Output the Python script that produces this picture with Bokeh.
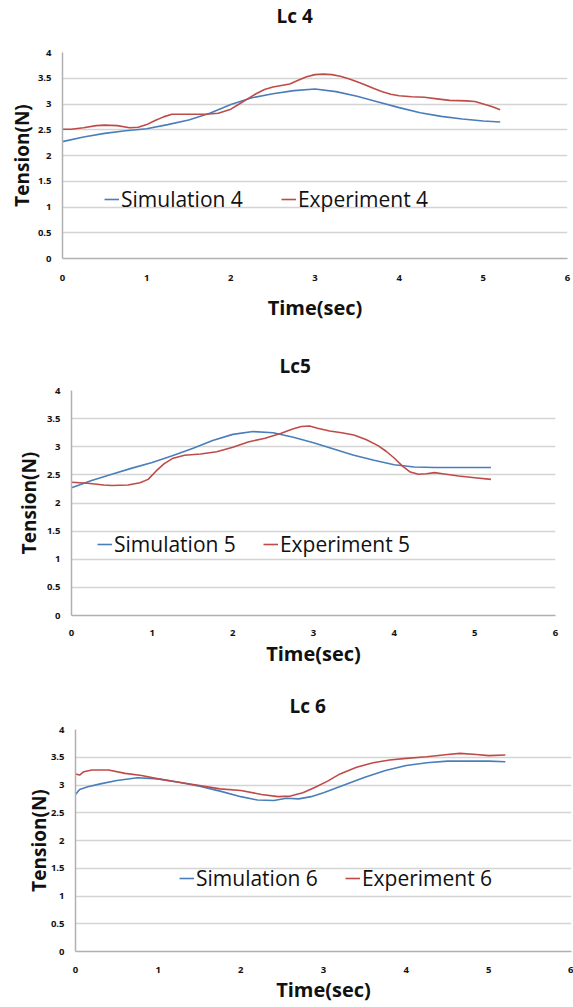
from bokeh.plotting import figure
from bokeh.models import FixedTicker, Range1d, Legend, LegendItem, Title
from bokeh.embed import file_html
from bokeh.resources import INLINE

# ---------------- data ----------------
x_ticks = [0, 1, 2, 3, 4, 5, 6]
x_tick_labels = ["0", "1", "2", "3", "4", "5", "6"]
y_ticks = [0, 0.5, 1, 1.5, 2, 2.5, 3, 3.5, 4]
y_tick_labels = ["0", "0.5", "1", "1.5", "2", "2.5", "3", "3.5", "4"]

titles = ["Lc 4", "Lc5", "Lc 6"]
sim_names = ["Simulation 4", "Simulation 5", "Simulation 6"]
exp_names = ["Experiment 4", "Experiment 5", "Experiment 6"]

t_sim4 = [0, 0.25, 0.5, 0.75, 1, 1.25, 1.5, 1.75, 2, 2.25, 2.5, 2.75, 3, 3.25,
          3.5, 3.75, 4, 4.25, 4.5, 4.75, 5, 5.2]
sim4 = [2.27, 2.36, 2.43, 2.48, 2.52, 2.6, 2.69, 2.82, 2.99, 3.12, 3.2, 3.26, 3.29, 3.24,
        3.15, 3.04, 2.93, 2.83, 2.76, 2.71, 2.67, 2.65]
t_exp4 = [0, 0.1, 0.25, 0.4, 0.5, 0.65, 0.8, 0.9, 1.0, 1.1, 1.2, 1.3, 1.5, 1.7, 1.85,
          2.0, 2.1, 2.2, 2.3, 2.4, 2.5, 2.6, 2.7, 2.8, 2.9, 3.0, 3.1, 3.2, 3.3, 3.4,
          3.5, 3.6, 3.7, 3.8, 3.9, 4.0, 4.15, 4.3, 4.45, 4.6, 4.8, 4.9, 5.0, 5.1, 5.2]
exp4 = [2.51, 2.51, 2.54, 2.58, 2.59, 2.58, 2.54, 2.55, 2.6, 2.68, 2.75, 2.8, 2.8, 2.8, 2.82,
        2.9, 3.0, 3.1, 3.2, 3.28, 3.33, 3.36, 3.39, 3.46, 3.53, 3.57, 3.58, 3.57, 3.54, 3.49,
        3.43, 3.37, 3.3, 3.24, 3.19, 3.16, 3.14, 3.13, 3.1, 3.07, 3.06, 3.05, 3.0, 2.95, 2.89]

t_sim5 = [0, 0.25, 0.5, 0.75, 1, 1.25, 1.5, 1.75, 2, 2.25, 2.5, 2.75, 3, 3.25,
          3.5, 3.75, 4, 4.25, 4.5, 4.75, 5, 5.2]
sim5 = [2.27, 2.4, 2.51, 2.62, 2.72, 2.84, 2.97, 3.11, 3.22, 3.27, 3.25, 3.17, 3.07, 2.96,
        2.85, 2.76, 2.68, 2.64, 2.63, 2.63, 2.63, 2.63]
t_exp5 = [0, 0.2, 0.4, 0.5, 0.7, 0.85, 0.95, 1.05, 1.15, 1.25, 1.4, 1.6, 1.8, 2.0, 2.2,
          2.4, 2.6, 2.75, 2.85, 2.95, 3.05, 3.2, 3.35, 3.5, 3.65, 3.8, 3.9, 4.0, 4.1,
          4.2, 4.3, 4.4, 4.5, 4.6, 4.8, 5.0, 5.2]
exp5 = [2.37, 2.35, 2.32, 2.31, 2.32, 2.36, 2.42, 2.57, 2.7, 2.79, 2.85, 2.87, 2.91, 2.99, 3.09,
        3.15, 3.24, 3.32, 3.36, 3.37, 3.33, 3.28, 3.25, 3.21, 3.13, 3.02, 2.92, 2.8, 2.66,
        2.55, 2.51, 2.52, 2.54, 2.52, 2.48, 2.45, 2.42]

t_sim6 = [0, 0.05, 0.15, 0.3, 0.5, 0.75, 1, 1.25, 1.5, 1.75, 2, 2.2, 2.4, 2.55, 2.7, 2.85,
          3, 3.25, 3.5, 3.75, 4, 4.25, 4.5, 4.75, 5, 5.2]
sim6 = [2.83, 2.92, 2.97, 3.02, 3.08, 3.13, 3.11, 3.05, 2.98, 2.89, 2.79, 2.73, 2.72, 2.76,
        2.75, 2.79, 2.86, 3.0, 3.14, 3.26, 3.35, 3.4, 3.43, 3.43, 3.43, 3.42]
t_exp6 = [0, 0.05, 0.1, 0.2, 0.4, 0.6, 0.8, 1.0, 1.25, 1.5, 1.75, 2.0, 2.25, 2.45, 2.6,
          2.75, 2.9, 3.05, 3.2, 3.4, 3.6, 3.8, 4.0, 4.25, 4.5, 4.65, 4.85, 5.0, 5.2]
exp6 = [3.2, 3.18, 3.24, 3.27, 3.27, 3.21, 3.17, 3.11, 3.05, 2.99, 2.93, 2.9, 2.83, 2.79, 2.8,
        2.86, 2.96, 3.07, 3.2, 3.32, 3.4, 3.45, 3.48, 3.51, 3.55, 3.57, 3.55, 3.53, 3.54]

# ---------------- style / layout ----------------
FONT = "Open Sans"
BLUE = "#4a7ebb"
RED = "#be4b48"
GRID = "#d4d4d4"
AXIS = "#b0b0b0"
W = 573

panels = [
    dict(h=325, bl=62, br=6, bt=52, bb=67, toff=214, gap=21, xls=16, xas=10, yls=11, yas=0, loc=(42, 45), sp=38),
    dict(h=355, bl=71, br=18, bt=65, bb=65, toff=208, gap=9, xls=14, xas=1, yls=11, yas=2, loc=(26, 57), sp=27),
    dict(h=325, bl=75, br=2, bt=49, bb=50, toff=214, gap=8, xls=15, xas=0, yls=11, yas=-4, loc=(104, 59), sp=27),
]
series = [(t_sim4, sim4, t_exp4, exp4), (t_sim5, sim5, t_exp5, exp5), (t_sim6, sim6, t_exp6, exp6)]

figs = []
for i, cfg in enumerate(panels):
    p = figure(width=W, height=cfg["h"], output_backend="svg", toolbar_location=None,
               title=None, x_range=Range1d(0, 6), y_range=Range1d(0, 4),
               min_border_left=cfg["bl"], min_border_right=cfg["br"],
               min_border_top=cfg["bt"], min_border_bottom=cfg["bb"])
    p.outline_line_color = None
    p.background_fill_color = "white"

    # spacer between frame and title, then the title itself (stacked above it)
    p.add_layout(Title(text=" ", text_font_size="1px", standoff=cfg["gap"]), "above")
    p.add_layout(Title(text=titles[i], align="left", offset=cfg["toff"], standoff=0,
                       text_font=FONT, text_font_size="19px", text_font_style="bold",
                       text_color="#111111"), "above")

    p.xaxis.ticker = FixedTicker(ticks=x_ticks)
    p.xaxis.major_label_overrides = dict(zip(x_ticks, x_tick_labels))
    p.yaxis.ticker = FixedTicker(ticks=y_ticks)
    p.yaxis.major_label_overrides = dict(zip(y_ticks, y_tick_labels))
    for ax in (p.xaxis[0], p.yaxis[0]):
        ax.major_tick_in = 0
        ax.major_tick_out = 0
        ax.minor_tick_in = 0
        ax.minor_tick_out = 0
        ax.axis_line_color = AXIS
        ax.axis_line_width = 1.5
        ax.major_label_text_font = FONT
        ax.major_label_text_font_size = "9.5px"
        ax.major_label_text_font_style = "bold"
        ax.major_label_text_color = "#111111"
        ax.axis_label_text_font = FONT
        ax.axis_label_text_font_style = "bold"
        ax.axis_label_text_color = "#111111"
    p.xaxis.axis_label_text_font_size = "20px"
    p.yaxis.axis_label_text_font_size = "19px"
    p.xaxis.axis_label = "Time(sec)"
    p.yaxis.axis_label = "Tension(N)"
    p.xaxis.major_label_standoff = cfg["xls"]
    p.xaxis.axis_label_standoff = cfg["xas"]
    p.yaxis.major_label_standoff = cfg["yls"]
    p.yaxis.axis_label_standoff = cfg["yas"]

    p.xgrid.grid_line_color = None
    p.ygrid.ticker = FixedTicker(ticks=y_ticks)
    p.ygrid.grid_line_color = GRID
    p.ygrid.grid_line_width = 1.6

    ts, ys, te, ye = series[i]
    r1 = p.line(ts, ys, line_color=BLUE, line_width=1.6)
    r2 = p.line(te, ye, line_color=RED, line_width=1.6)

    leg = Legend(items=[LegendItem(label=sim_names[i], renderers=[r1]),
                        LegendItem(label=exp_names[i], renderers=[r2])],
                 orientation="horizontal", location=cfg["loc"],
                 glyph_width=15, glyph_height=20, label_height=20, label_standoff=2,
                 spacing=cfg["sp"], padding=0, margin=0,
                 border_line_color=None, background_fill_alpha=0,
                 label_text_font=FONT, label_text_font_size="21px",
                 label_text_color="#111111")
    p.add_layout(leg, "center")
    figs.append(p)

open("out.html", "w").write(file_html(figs, INLINE))
